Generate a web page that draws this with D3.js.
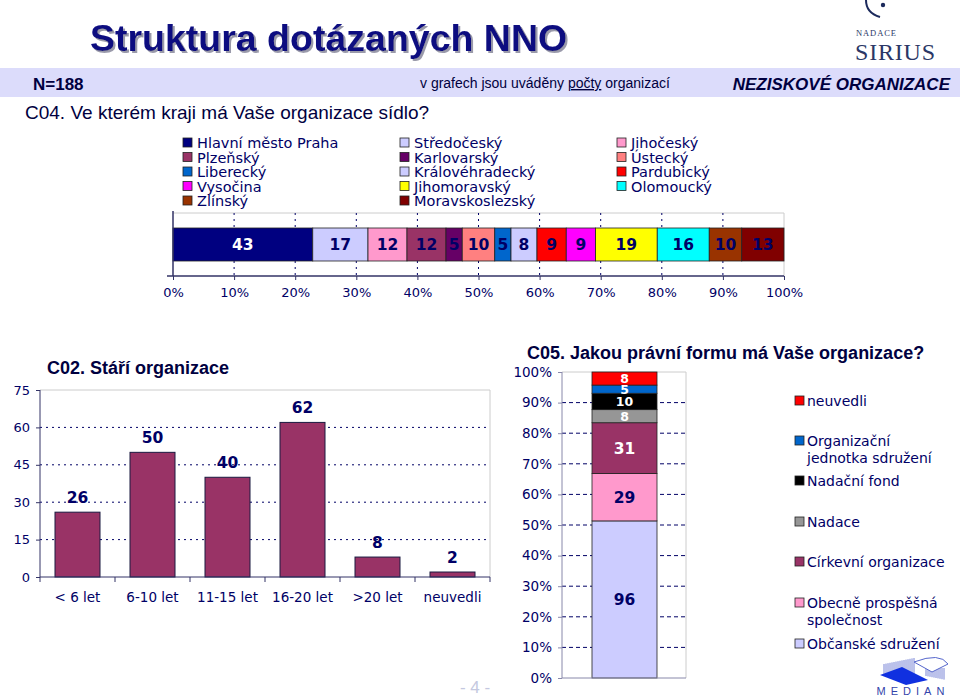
<!DOCTYPE html>
<html lang="cs">
<head>
<meta charset="UTF-8">
<title>Struktura dotázaných NNO</title>
<script src="https://cdn.jsdelivr.net/npm/d3@7"></script>
<style>
	body { margin: 0; background: #fff; }
	svg { display: block; }
	.sans { font-family: "DejaVu Sans", Verdana, sans-serif; }
	.arial { font-family: "Liberation Sans", Arial, sans-serif; }
</style>
</head>
<body>
<svg id="page" width="960" height="697"></svg>
<script>
// C04 - kraje (pořadí jako v grafu)
const regions = ['Hlavní město Praha', 'Středočeský', 'Jihočeský', 'Plzeňský', 'Karlovarský', 'Ústecký', 'Liberecký',
	'Královéhradecký', 'Pardubický', 'Vysočina', 'Jihomoravský', 'Olomoucký', 'Zlínský', 'Moravskoslezský'];
const regionCounts = [43, 17, 12, 12, 5, 10, 5, 8, 9, 9, 19, 16, 10, 13];
const pctTicks = [0, 0.1, 0.2, 0.3, 0.4, 0.5, 0.6, 0.7, 0.8, 0.9, 1];

// C02 - stáří organizace
const ageCats = ['< 6 let', '6-10 let', '11-15 let', '16-20 let', '>20 let', 'neuvedli'];
const ageCounts = [26, 50, 40, 62, 8, 2];
const ageTicks = [0, 15, 30, 45, 60, 75];

// C05 - právní forma (odspodu nahoru)
const forms = ['Občanské sdružení', 'Obecně prospěšná společnost', 'Církevní organizace', 'Nadace', 'Nadační fond',
	'Organizační jednotka sdružení', 'neuvedli'];
const formCounts = [96, 29, 31, 8, 10, 5, 8];

// styles
const navy = '#000066';
const regionColors = ['#000080', '#CCCCFF', '#FF99CC', '#993366', '#660066', '#FF8080', '#0066CC',
	'#CCCCFF', '#FF0000', '#FF00FF', '#FFFF00', '#00FFFF', '#993300', '#800000'];
const formColors = ['#CCCCFF', '#FF99CC', '#993366', '#969696', '#000000', '#0066CC', '#FF0000'];
const formLabelColors = [navy, navy, '#fff', '#fff', '#fff', '#fff', '#fff'];

const svg = d3.select('#page');

const defs = svg.append('defs');
defs.append('filter').attr('id', 'shadow').attr('x', '-5%').attr('y', '-20%').attr('width', '110%').attr('height', '150%')
	.append('feDropShadow').attr('dx', 2).attr('dy', 2).attr('stdDeviation', 0.6)
	.attr('flood-color', '#9a9aaa').attr('flood-opacity', 1);

// ---------- header ----------
svg.append('text').attr('class', 'arial')
	.attr('x', 90).attr('y', 51)
	.attr('font-size', 37.5).attr('font-weight', 'bold').attr('fill', '#0a0a80')
	.attr('filter', 'url(#shadow)')
	.text('Struktura dotázaných NNO');

svg.append('rect').attr('x', 0).attr('y', 68).attr('width', 960).attr('height', 29).attr('fill', '#DCDCFB');
svg.append('text').attr('class', 'arial').attr('x', 33).attr('y', 90)
	.attr('font-size', 17).attr('font-weight', 'bold').attr('fill', '#000040').text('N=188');

const note = svg.append('text').attr('class', 'arial').attr('x', 420).attr('y', 88)
	.attr('font-size', 14).attr('fill', '#000040');
note.append('tspan').text('v grafech jsou uváděny ');
note.append('tspan').attr('text-decoration', 'underline').text('počty');
note.append('tspan').text(' organizací');

svg.append('text').attr('class', 'arial').attr('x', 950).attr('y', 90).attr('text-anchor', 'end')
	.attr('font-size', 17).attr('font-weight', 'bold').attr('font-style', 'italic').attr('fill', '#000040')
	.text('NEZISKOVÉ ORGANIZACE');

svg.append('text').attr('class', 'arial').attr('x', 25).attr('y', 119)
	.attr('font-size', 19).attr('fill', '#000040')
	.text('C04. Ve kterém kraji má Vaše organizace sídlo?');

// Sirius logo
svg.append('path').attr('d', 'M866,0 Q866,13 880,17').attr('fill', 'none').attr('stroke', '#1c2a5c').attr('stroke-width', 2);
svg.append('circle').attr('cx', 883).attr('cy', 5).attr('r', 2.2).attr('fill', '#1c2a5c');
svg.append('text').attr('x', 856).attr('y', 36).attr('font-family', 'Liberation Serif, serif')
	.attr('font-size', 8.5).attr('fill', '#2b3766').attr('textLength', 40).text('NADACE');
svg.append('text').attr('x', 855).attr('y', 60).attr('font-family', 'Liberation Serif, serif')
	.attr('font-size', 24).attr('fill', '#2b3766').attr('textLength', 80).text('SIRIUS');

// ---------- C04 legend ----------
const legTop = svg.append('g').attr('class', 'sans');
regions.forEach((r, i) => {
	const col = i % 3, row = Math.floor(i / 3);
	const g = legTop.append('g').attr('transform', `translate(${[183, 400, 617][col]},${143 + row * 14.5})`);
	g.append('rect').attr('x', 0).attr('y', -5).attr('width', 9).attr('height', 9)
		.attr('fill', regionColors[i]).attr('stroke', '#222').attr('stroke-width', 0.8);
	g.append('text').attr('x', 14).attr('y', 5).attr('font-size', 14.5).attr('fill', navy).text(r);
});

// ---------- C04 stacked bar ----------
const total4 = d3.sum(regionCounts);
const x4 = d3.scaleLinear().domain([0, 1]).range([173, 784]);
const top4 = 213, bot4 = 276;
const ends4 = d3.cumsum(regionCounts).map(v => v / total4);
const starts4 = [0, ...ends4.slice(0, -1)];

const g4 = svg.append('g').attr('class', 'sans');
g4.append('line').attr('x1', x4(0)).attr('x2', x4(1)).attr('y1', top4).attr('y2', top4).attr('stroke', '#ccc');
g4.append('line').attr('x1', x4(1)).attr('x2', x4(1)).attr('y1', top4).attr('y2', bot4).attr('stroke', '#ccc');
g4.selectAll('.grid4').data(pctTicks.slice(1, -1)).enter().append('line')
	.attr('x1', d => x4(d)).attr('x2', d => x4(d)).attr('y1', top4).attr('y2', bot4)
	.attr('stroke', navy).attr('stroke-dasharray', '2,4');
g4.selectAll('.seg4').data(regionCounts).enter().append('rect')
	.attr('x', (d, i) => x4(starts4[i])).attr('width', (d, i) => x4(ends4[i]) - x4(starts4[i]))
	.attr('y', 228).attr('height', 33)
	.attr('fill', (d, i) => regionColors[i]).attr('stroke', '#222').attr('stroke-width', 0.8);
g4.selectAll('.lab4').data(regionCounts).enter().append('text')
	.attr('x', (d, i) => (x4(starts4[i]) + x4(ends4[i])) / 2).attr('y', 250)
	.attr('text-anchor', 'middle').attr('font-size', 15.5).attr('font-weight', 'bold')
	.attr('fill', (d, i) => i === 0 ? '#fff' : navy).text(d => d);
g4.append('line').attr('x1', x4(0)).attr('x2', x4(0)).attr('y1', top4 - 2).attr('y2', bot4).attr('stroke', '#333366').attr('stroke-width', 1.5);
const ax4 = g4.append('g').attr('transform', `translate(0,${bot4})`)
	.call(d3.axisBottom(x4).tickValues(pctTicks).tickFormat(d3.format('.0%')).tickSize(4).tickPadding(8));
ax4.select('.domain').attr('stroke', '#333366').attr('stroke-width', 1.5).attr('d', `M${x4(0) - 6},0H${x4(1)}`);
ax4.selectAll('.tick line').attr('stroke', '#333366');
ax4.selectAll('.tick text').attr('font-family', 'DejaVu Sans').attr('font-size', 13).attr('fill', navy);

// ---------- C02 bars ----------
const x2 = d3.scaleBand().domain(ageCats).range([40, 490]).paddingInner(0.4).paddingOuter(0.2);
const y2 = d3.scaleLinear().domain([0, 75]).range([577, 390]);
const g2 = svg.append('g').attr('class', 'sans');
g2.append('text').attr('class', 'arial').attr('x', 47).attr('y', 374)
	.attr('font-size', 18).attr('font-weight', 'bold').attr('fill', '#000040').text('C02. Stáří organizace');
g2.append('line').attr('x1', 40).attr('x2', 490).attr('y1', y2(75)).attr('y2', y2(75)).attr('stroke', '#ccc');
g2.append('line').attr('x1', 490).attr('x2', 490).attr('y1', y2(75)).attr('y2', y2(0)).attr('stroke', '#ccc');
g2.selectAll('.grid2').data(ageTicks.slice(1, -1)).enter().append('line')
	.attr('x1', 40).attr('x2', 490).attr('y1', d => y2(d)).attr('y2', d => y2(d))
	.attr('stroke', navy).attr('stroke-dasharray', '2,4');
g2.selectAll('.bar2').data(ageCounts).enter().append('rect')
	.attr('x', (d, i) => x2(ageCats[i])).attr('width', x2.bandwidth())
	.attr('y', d => y2(d)).attr('height', d => y2(0) - y2(d))
	.attr('fill', '#993366').attr('stroke', '#1a1a40').attr('stroke-width', 1);
g2.selectAll('.lab2').data(ageCounts).enter().append('text')
	.attr('x', (d, i) => x2(ageCats[i]) + x2.bandwidth() / 2).attr('y', d => y2(d) - 9)
	.attr('text-anchor', 'middle').attr('font-size', 15.5).attr('font-weight', 'bold').attr('fill', navy).text(d => d);
const ay2 = g2.append('g').attr('transform', 'translate(40,0)')
	.call(d3.axisLeft(y2).tickValues(ageTicks).tickSize(4).tickPadding(6));
ay2.select('.domain').attr('stroke', '#333366').attr('d', `M0,${y2(75)}V${y2(0)}`);
ay2.selectAll('.tick line').attr('stroke', '#333366');
ay2.selectAll('.tick text').attr('font-family', 'DejaVu Sans').attr('font-size', 13).attr('fill', navy);
const ax2 = g2.append('g').attr('transform', `translate(0,${y2(0)})`)
	.call(d3.axisBottom(x2).tickSize(0).tickPadding(15));
ax2.select('.domain').attr('stroke', '#333366').attr('d', 'M40,0H490');
ax2.selectAll('.tick text').attr('font-family', 'DejaVu Sans').attr('font-size', 13.5).attr('fill', navy);
g2.selectAll('.sep2').data(d3.range(ageCats.length + 1)).enter().append('line')
	.attr('x1', i => 40 + i * x2.step()).attr('x2', i => 40 + i * x2.step())
	.attr('y1', y2(0)).attr('y2', y2(0) + 5).attr('stroke', '#333366');

// ---------- C05 stacked 100% bar ----------
const total5 = d3.sum(formCounts);
const y5 = d3.scaleLinear().domain([0, 1]).range([678, 372]);
const ends5 = d3.cumsum(formCounts).map(v => v / total5);
const starts5 = [0, ...ends5.slice(0, -1)];
const g5 = svg.append('g').attr('class', 'sans');
g5.append('text').attr('class', 'arial').attr('x', 527).attr('y', 359)
	.attr('font-size', 18).attr('font-weight', 'bold').attr('fill', '#000040')
	.text('C05. Jakou právní formu má Vaše organizace?');
g5.append('line').attr('x1', 562).attr('x2', 686).attr('y1', y5(1)).attr('y2', y5(1)).attr('stroke', '#ccc');
g5.append('line').attr('x1', 686).attr('x2', 686).attr('y1', y5(1)).attr('y2', y5(0)).attr('stroke', '#ccc');
g5.selectAll('.grid5').data(pctTicks.slice(1, -1)).enter().append('line')
	.attr('x1', 562).attr('x2', 686).attr('y1', d => y5(d)).attr('y2', d => y5(d))
	.attr('stroke', navy).attr('stroke-dasharray', '4,3');
g5.selectAll('.seg5').data(formCounts).enter().append('rect')
	.attr('x', 592).attr('width', 65)
	.attr('y', (d, i) => y5(ends5[i])).attr('height', (d, i) => y5(starts5[i]) - y5(ends5[i]))
	.attr('fill', (d, i) => formColors[i]).attr('stroke', '#222').attr('stroke-width', 0.8);
g5.selectAll('.lab5').data(formCounts).enter().append('text')
	.attr('x', 624.5).attr('y', (d, i) => (y5(starts5[i]) + y5(ends5[i])) / 2 + (d < 12 ? 4.5 : 5.5))
	.attr('text-anchor', 'middle').attr('font-size', d => d < 12 ? 12.5 : 15.5).attr('font-weight', 'bold')
	.attr('fill', (d, i) => formLabelColors[i]).text(d => d);
const ay5 = g5.append('g').attr('transform', 'translate(562,0)')
	.call(d3.axisLeft(y5).tickValues(pctTicks).tickFormat(d3.format('.0%')).tickSize(4).tickPadding(6));
ay5.select('.domain').attr('stroke', '#8888aa').attr('d', `M0,${y5(1)}V${y5(0)}`);
ay5.selectAll('.tick line').attr('stroke', '#8888aa');
ay5.selectAll('.tick text').attr('font-family', 'DejaVu Sans').attr('font-size', 13.5).attr('fill', navy);
g5.append('line').attr('x1', 562).attr('x2', 686).attr('y1', y5(0)).attr('y2', y5(0)).attr('stroke', '#8888aa');

// legend (odshora dolů = obrácené pořadí)
const legLines = {
	'Organizační jednotka sdružení': ['Organizační', 'jednotka sdružení'],
	'Obecně prospěšná společnost': ['Obecně prospěšná', 'společnost']
};
const legY5 = [644, 603, 562, 522, 481, 441, 401];
forms.forEach((f, i) => {
	const g = g5.append('g').attr('transform', `translate(795,${legY5[i]})`);
	g.append('rect').attr('x', 0).attr('y', -5).attr('width', 9).attr('height', 9)
		.attr('fill', formColors[i]).attr('stroke', '#222').attr('stroke-width', 0.8);
	(legLines[f] || [f]).forEach((t, k) => {
		g.append('text').attr('x', 12).attr('y', 5 + k * 17).attr('font-size', 14).attr('fill', navy).text(t);
	});
});

// Median logo
const lg = svg.append('g');
lg.selectAll('.hatch').data(d3.range(0, 32, 2)).enter().append('line')
	.attr('x1', d => 884 + d).attr('x2', d => 884 + d).attr('y1', d => 664 - d * 0.2).attr('y2', 675)
	.attr('stroke', '#5566cc').attr('stroke-width', 0.8);
lg.selectAll('.hatch2').data(d3.range(0, 20, 2)).enter().append('line')
	.attr('x1', d => 926 + d).attr('x2', d => 926 + d).attr('y1', 668).attr('y2', d => 676 + d * 0.2)
	.attr('stroke', '#5566cc').attr('stroke-width', 0.8);
lg.append('path').attr('d', 'M880,675 L902,667 L928,680 L906,685 Z').attr('fill', '#1030e0');
lg.append('path').attr('d', 'M914,662 Q940,652 948,664 L932,672 Z').attr('fill', '#fff').attr('stroke', '#5566cc');
lg.append('text').attr('x', 913).attr('y', 695).attr('text-anchor', 'middle').attr('class', 'arial')
	.attr('font-size', 11).attr('letter-spacing', 5).attr('fill', '#3344aa').text('MEDIAN');

// page number
svg.append('text').attr('class', 'arial').attr('x', 475).attr('y', 693).attr('text-anchor', 'middle')
	.attr('font-size', 17).attr('fill', '#c4c8e0').text('- 4 -');
</script>
</body>
</html>
